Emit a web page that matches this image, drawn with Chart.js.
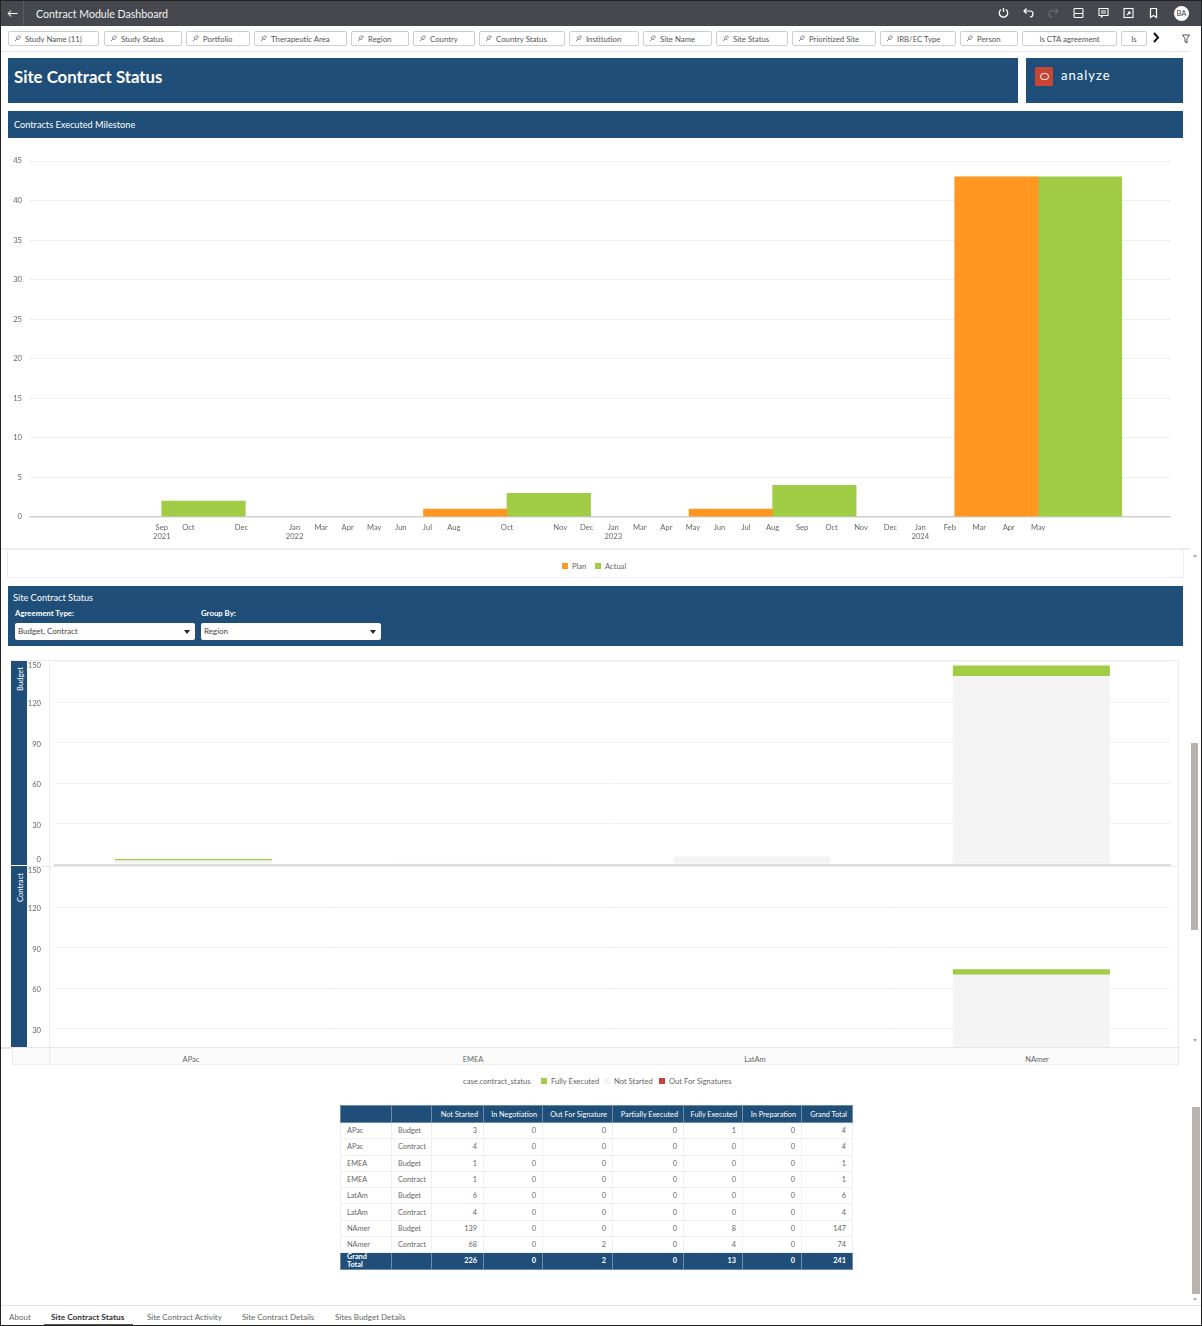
<!DOCTYPE html>
<html>
<head>
<meta charset="utf-8">
<title>Contract Module Dashboard</title>
<script src="https://cdn.jsdelivr.net/npm/chart.js@4/dist/chart.umd.min.js"></script>
<style>
*{box-sizing:border-box}
html,body{margin:0;padding:0;background:#fff}
body{width:1202px;height:1326px;position:relative;overflow:hidden;font-family:Lato,"Noto Sans",sans-serif;color:#555}
.a{position:absolute}
.blue{background:#1f4e79;color:#fff}
.chip{position:absolute;top:31px;height:15px;border:1px solid #cfcfcf;border-radius:2px;background:#fff;font-size:7.8px;line-height:15px;color:#555;padding-left:16px;white-space:nowrap;overflow:hidden}
.chip svg{position:absolute;left:5px;top:3px}
.ic{position:absolute;top:7px}
.sel{position:absolute;top:623px;height:17px;background:#fff;border-radius:2px;color:#444;font-size:8px;line-height:17px;padding-left:3px}
.sel i{position:absolute;right:5px;top:7px;width:0;height:0;border-left:3px solid transparent;border-right:3px solid transparent;border-top:4px solid #222}
.leg{position:absolute;font-size:7.6px;line-height:10px;color:#666;white-space:nowrap}
.sw{position:absolute;width:6px;height:6px}
.cat{position:absolute;top:1048px;height:17px;width:282px;text-align:center;font-size:7.5px;line-height:24px;color:#666}
canvas{display:block}
table{border-collapse:collapse;table-layout:fixed;position:absolute;left:340px;top:1105px;width:512px;font-size:7.3px}
th{background:#1f4e79;color:#fff;font-weight:400;height:17px;padding:0 5px 0 2px;text-align:right;border:1px solid #6d8cab;white-space:nowrap;overflow:hidden}
td{height:16.3px;padding:0 6px;text-align:right;border:1.5px solid #f0f0f0;color:#666}
td.t{text-align:left}
tr.tot td{background:#1f4e79;color:#fff;font-weight:700;border:1px solid #6d8cab;height:16px;padding:0 6px;line-height:8px}
.tab{position:absolute;top:1312px;font-size:8px;line-height:10px;color:#666;white-space:nowrap}
</style>
</head>
<body>
<!-- top bar -->
<div class="a" style="left:0;top:0;width:1202px;height:26px;background:#47484d"></div>
<div class="a" style="left:23px;top:1px;width:1px;height:25px;background:#5b5c61"></div>
<div class="a" style="left:7px;top:6px;font-size:11px;line-height:14px;color:#fff">←</div>
<div class="a" style="left:36px;top:7px;font-size:10.6px;line-height:14px;color:#f2f2f2;white-space:nowrap">Contract Module Dashboard</div>
<svg class="ic" style="left:998px" width="11" height="12" fill="none" stroke="#fff" stroke-width="1.3"><path d="M3 2.5a4.2 4.2 0 1 0 5 0M5.5 1v4"/></svg>
<svg class="ic" style="left:1023px" width="11" height="12" fill="none" stroke="#fff" stroke-width="1.2"><path d="M1 4h6a3 3 0 0 1 0 6M3.5 1.5L1 4l2.5 2.5"/></svg>
<svg class="ic" style="left:1048px" width="11" height="12" fill="none" stroke="#6c6d72" stroke-width="1.2"><path d="M10 4H4a3 3 0 0 0 0 6M7.5 1.5L10 4 7.500 6.500"/></svg>
<svg class="ic" style="left:1073px" width="11" height="12" fill="none" stroke="#fff" stroke-width="1.1"><rect x="1" y="1.500" width="9" height="5" rx="1"/><rect x="1" y="6.500" width="9" height="4" rx="1"/></svg>
<svg class="ic" style="left:1098px" width="11" height="12" fill="none" stroke="#fff" stroke-width="1.1"><path d="M1 1.500h9v7H4v2l-1-2H1zM3 4h5M3 6h5"/></svg>
<svg class="ic" style="left:1123px" width="11" height="12" fill="none" stroke="#fff" stroke-width="1.1"><rect x="1" y="1.500" width="9" height="9"/><path d="M4 8l3-3M5 5h2v2"/></svg>
<svg class="ic" style="left:1148px" width="11" height="12" fill="none" stroke="#fff" stroke-width="1.2"><path d="M2.500 1.500h6v9l-3-2-3 2z"/></svg>
<div class="a" style="left:1174px;top:6px;width:15px;height:15px;border-radius:50%;background:#fff;color:#444;font-size:7.5px;line-height:15px;text-align:center">BA</div>

<div id="chips"></div>
<svg class="a" style="left:1152px;top:32px" width="8" height="11" fill="none" stroke="#111" stroke-width="2"><path d="M2 1l4 4.500-4 4.500"/></svg>
<svg class="a" style="left:1182px;top:34px" width="9" height="10" fill="none" stroke="#555" stroke-width="1"><path d="M.5 1h7L5 4.500V9L3 8V4.500z"/></svg>
<div class="a" style="left:0;top:51px;width:1190px;height:1px;background:#e6e6e6"></div>

<!-- title panels -->
<div class="a blue" style="left:8px;top:58px;width:1010px;height:45px;font-size:16.8px;font-weight:700;line-height:38px;padding-left:6px">Site Contract Status</div>
<div class="a blue" style="left:1026px;top:58px;width:157px;height:45px"></div>
<div class="a" style="left:1035px;top:67px;width:18px;height:19px;background:#c74634;border-radius:1px"></div>
<div class="a" style="left:1040px;top:73px;width:9px;height:6.500px;border:1.3px solid #fff;border-radius:4px"></div>
<div class="a" style="left:1061px;top:67px;font-size:13px;line-height:16px;letter-spacing:1px;color:#fff">analyze</div>
<div class="a blue" style="left:8px;top:111px;width:1175px;height:27px"></div>
<div class="a" style="left:14px;top:118.500px;font-size:9.200px;line-height:12px;color:#fff">Contracts Executed Milestone</div>

<!-- milestone chart -->
<div class="a" style="left:0;top:140px;width:1202px;height:408px"><canvas id="milestone" width="1202" height="408"></canvas></div>
<div class="a" style="left:0;top:548px;width:1190px;height:2px;background:#eeeeee"></div>
<div class="a" style="left:7px;top:549px;width:1177px;height:29px;border:1px solid #eeeeee;border-top:0"></div>
<div id="milestoneLegend"></div>

<!-- second section -->
<div class="a blue" style="left:8px;top:586px;width:1175px;height:60px"></div>
<div class="a" style="left:13px;top:592px;font-size:9.200px;line-height:12px;color:#fff">Site Contract Status</div>
<div class="a" style="left:15px;top:608px;font-size:7.800px;line-height:10px;color:#fff;font-weight:700">Agreement Type:</div>
<div class="a" style="left:201px;top:608px;font-size:7.800px;line-height:10px;color:#fff;font-weight:700">Group By:</div>
<div class="sel" style="left:15px;width:180px">Budget, Contract<i></i></div>
<div class="sel" style="left:201px;width:180px">Region<i></i></div>

<!-- facet charts -->
<div class="a" style="left:11px;top:660px;width:1168px;height:388px;border:1px solid #ececec;border-bottom:0"></div>
<div class="a" style="left:49px;top:661px;width:1px;height:404px;background:#ececec"></div>
<div class="a" style="left:28px;top:660px;width:1150px;height:206px"><canvas id="budget" width="1150" height="206"></canvas></div>
<div class="a" style="left:28px;top:865px;width:1150px;height:182px;overflow:hidden"><canvas id="contract" width="1150" height="206"></canvas></div>
<div class="a" style="left:27px;top:865.500px;width:1152px;height:1px;background:#e9e9e9"></div>
<div class="a" style="left:0;top:1047px;width:1180px;height:1.500px;background:#e6e6e6"></div>
<div class="a blue" style="left:11px;top:661px;width:16px;height:204px"></div>
<div class="a blue" style="left:11px;top:866px;width:16px;height:181px"></div>
<div class="a" style="left:15px;top:667px;font-size:7.600px;line-height:10px;color:#fff;writing-mode:vertical-rl;transform:rotate(180deg)">Budget</div>
<div class="a" style="left:15px;top:873px;font-size:7.600px;line-height:10px;color:#fff;writing-mode:vertical-rl;transform:rotate(180deg)">Contract</div>
<div class="a" style="left:12px;top:1048px;width:1167px;height:17px;background:#fbfbfb;border:1px solid #ececec;border-top:0"></div>
<div class="a" style="left:49px;top:1048px;width:1px;height:17px;background:#ececec"></div>
<div id="catRow"></div>
<div id="statusLegend"></div>

<table id="tbl"></table>

<!-- tabs -->
<div class="a" style="left:0;top:1305px;width:1202px;height:1px;background:#e4e4e4"></div>
<div class="tab" style="left:9px">About</div>
<div class="tab" style="left:51px;font-weight:700;color:#333;font-size:8.300px">Site Contract Status</div>
<div class="a" style="left:44px;top:1324px;width:89px;height:1px;background:#555"></div>
<div class="tab" style="left:147px">Site Contract Activity</div>
<div class="tab" style="left:242px">Site Contract Details</div>
<div class="tab" style="left:335px">Sites Budget Details</div>

<!-- scrollbars -->
<div class="a" style="left:1191px;top:743px;width:7px;height:187px;background:#b8b3ae"></div>
<div class="a" style="left:1192px;top:1107px;width:8px;height:187px;background:#b8b3ae"></div>
<div class="a" style="left:1193px;top:552px;width:0;height:0;border:2.500px solid transparent;border-bottom:3px solid #aaa"></div>
<div class="a" style="left:1193px;top:1039px;width:0;height:0;border:2.500px solid transparent;border-top:3px solid #aaa"></div>
<div class="a" style="left:1193px;top:1298px;width:0;height:0;border:2.500px solid transparent;border-top:3px solid #aaa"></div>
<div class="a" style="left:0;top:0;width:1202px;height:1326px;border:1px solid #222;border-bottom-width:1.500px;pointer-events:none"></div>

<script>
// ---- milestone chart data
const monthLabels=['Sep|2021','Oct','Dec','Jan|2022','Mar','Apr','May','Jun','Jul','Aug','Oct','Nov','Dec','Jan|2023','Mar','Apr','May','Jun','Jul','Aug','Sep','Oct','Nov','Dec','Jan|2024','Feb','Mar','Apr','May'];
const monthSlots=[0,1,3,5,6,7,8,9,10,11,13,15,16,17,18,19,20,21,22,23,24.11,25.22,26.33,27.44,28.56,29.67,30.78,31.89,33];
const milestoneSlots=[0,13,23,33];
const planValues=[null,1,1,43];
const actualValues=[2,3,4,43];
const milestoneTicks=[0,5,10,15,20,25,30,35,40,45];

// ---- status chart data (null = no segment drawn)
const regions=['APac','EMEA','LatAm','NAmer'];
const budgetNotStarted=[3,1,6,139];
const budgetFully=[1,null,null,8];
const budgetOut=[null,null,null,null];
const contractNotStarted=[4,1,4,70];
const contractFully=[null,null,null,4];
const contractOut=[null,null,null,null];

// ---- table data
const tableCols=['','','Not Started','In Negotiation','Out For Signature','Partially Executed','Fully Executed','In Preparation','Grand Total'];
const tableRegion=['APac','APac','EMEA','EMEA','LatAm','LatAm','NAmer','NAmer'];
const tableType=['Budget','Contract','Budget','Contract','Budget','Contract','Budget','Contract'];
const tableNotStarted=[3,4,1,1,6,4,139,68];
const tableNegotiation=[0,0,0,0,0,0,0,0];
const tableOut=[0,0,0,0,0,0,0,2];
const tablePartial=[0,0,0,0,0,0,0,0];
const tableFully=[1,0,0,0,0,0,8,4];
const tablePrep=[0,0,0,0,0,0,0,0];
const tableTotal=[4,4,1,1,6,4,147,74];
const tableGrand=[226,0,2,0,13,0,241];

const FONT='Lato';
const ORANGE='#ff9720',GREEN='#a0cc46',LIGHT='#f4f4f4',RED='#c9413a';
const tickFont={family:FONT,size:7.6};

// chips
const chips=[['Study Name (11)',8,99],['Study Status',104,182],['Portfolio',186,250],['Therapeutic Area',254,347],['Region',351,409],['Country',413,475],['Country Status',479,565],['Institution',569,639],['Site Name',643,712],['Site Status',716,788],['Prioritized Site',792,876],['IRB/EC Type',880,956],['Person',960,1018],['Is CTA agreement',1022,1117],['Is',1121,1147]];
const pin='<svg width="7" height="7" fill="none" stroke="#777" stroke-width=".9"><path d="M1 6l2-2M2 2.500L4.500 5 5 3.500 6.500 2 5 .5 3.500 2z"/></svg>';
document.getElementById('chips').innerHTML=chips.map(([t,a,b],i)=>{
  const plain=i>=13;
  return `<div class="chip" style="left:${a}px;width:${b-a}px;${plain?'padding-left:0;text-align:center':''}">${plain?'':pin}${t}</div>`;
}).join('');

// legends
function legend(id,y,items){
  document.getElementById(id).innerHTML=items.map(([t,x,c])=>
    `<div class="sw" style="left:${x}px;top:${y-3}px;background:${c}"></div><div class="leg" style="left:${x+10}px;top:${y-5}px">${t}</div>`).join('');
}
legend('milestoneLegend',566,[['Plan',562,ORANGE],['Actual',595,GREEN]]);
legend('statusLegend',1081,[['Fully Executed',541,GREEN],['Not Started',604,LIGHT],['Out For Signatures',659,RED]]);
document.getElementById('statusLegend').insertAdjacentHTML('beforeend','<div class="leg" style="left:463px;top:1076px">case.contract_status</div>');
document.getElementById('catRow').innerHTML=regions.map((r,i)=>`<div class="cat" style="left:${50+i*282}px">${r}</div>`).join('');

// table
const rowsHtml=tableRegion.map((r,i)=>`<tr><td class="t">${r}</td><td class="t">${tableType[i]}</td><td>${tableNotStarted[i]}</td><td>${tableNegotiation[i]}</td><td>${tableOut[i]}</td><td>${tablePartial[i]}</td><td>${tableFully[i]}</td><td>${tablePrep[i]}</td><td>${tableTotal[i]}</td></tr>`).join('');
const widths=[51,40,52,59,70,71,59,59,51];
document.getElementById('tbl').innerHTML=
  `<colgroup>${widths.map(w=>`<col style="width:${w}px">`).join('')}</colgroup>`+
  `<tr>${tableCols.map(c=>`<th>${c}</th>`).join('')}</tr>`+rowsHtml+
  `<tr class="tot"><td class="t">Grand<br>Total</td><td></td>${tableGrand.map(v=>`<td>${v}</td>`).join('')}</tr>`;

// shift the top and bottom y labels inside the plot, as the original does
const innerLabels={id:'innerLabels',beforeDraw(c){
  const s=c.scales.y,a=c.chartArea;
  s.getLabelItems(a).forEach(it=>{
    const t=it.options.translation;
    t[1]=Math.max(a.top+4,Math.min(a.bottom-5,t[1]+1.5));
  });
}};

new Chart(document.getElementById('milestone'),{
  type:'bar',
  data:{datasets:[
    {label:'Plan',data:milestoneSlots.map((x,i)=>({x,y:planValues[i]})),backgroundColor:ORANGE},
    {label:'Actual',data:milestoneSlots.map((x,i)=>({x,y:actualValues[i]})),backgroundColor:GREEN}
  ]},
  options:{
    responsive:false,animation:false,
    barThickness:83.5,
    layout:{padding:{top:21,right:31,left:0,bottom:0}},
    plugins:{legend:{display:false},tooltip:{enabled:false}},
    scales:{
      x:{type:'linear',offset:false,min:-5,max:38,
        afterBuildTicks(s){s.ticks=monthSlots.map(v=>({value:v}))},
        afterFit(s){s.height=31},
        grid:{display:false,drawTicks:false},border:{display:false},
        ticks:{autoSkip:false,maxRotation:0,minRotation:0,padding:6,color:'#666',font:tickFont,
          callback:(v,i)=>monthLabels[i].split('|')}},
      y:{min:0,max:45,
        afterBuildTicks(s){s.ticks=milestoneTicks.map(v=>({value:v}))},
        afterFit(s){s.width=29},
        border:{display:false},
        grid:{drawTicks:false,color:c=>c.tick.value===0?'#cfcfcf':'#efefef',lineWidth:c=>c.tick.value===0?1.5:1},
        ticks:{padding:7,color:'#666',font:tickFont}}
    }
  }
});

function facet(id,notStarted,fully,out){
  return new Chart(document.getElementById(id),{
    type:'bar',
    data:{labels:regions,datasets:[
      {label:'Not Started',data:notStarted,backgroundColor:LIGHT},
      {label:'Out For Signatures',data:out,backgroundColor:RED},
      {label:'Fully Executed',data:fully,backgroundColor:GREEN}
    ]},
    options:{
      responsive:false,animation:false,
      categoryPercentage:1,barPercentage:.5625,
      layout:{padding:{top:1.4,right:7,left:0,bottom:1.5}},
      plugins:{legend:{display:false},tooltip:{enabled:false}},
      scales:{
        x:{stacked:true,display:false},
        y:{stacked:true,min:0,max:150,
          afterFit(s){s.width=26;s.paddingTop=0;s.paddingBottom=0},
          border:{display:false},
          grid:{drawTicks:false,color:c=>c.tick.value===0?'#dddddd':'#f2f2f2',lineWidth:c=>c.tick.value===0?2:1},
          ticks:{stepSize:30,padding:13,color:'#666',font:tickFont}}
      }
    },
    plugins:[innerLabels]
  });
}
facet('budget',budgetNotStarted,budgetFully,budgetOut);
facet('contract',contractNotStarted,contractFully,contractOut);
</script>
</body>
</html>
